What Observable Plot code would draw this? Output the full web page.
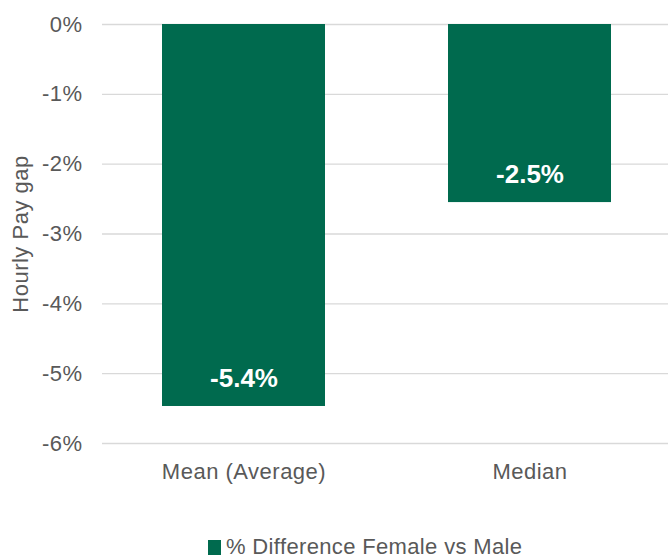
<!DOCTYPE html>
<html>
<head>
<meta charset="utf-8">
<script src="https://cdn.jsdelivr.net/npm/d3@7"></script>
<script src="https://cdn.jsdelivr.net/npm/@observablehq/plot@0.6"></script>
<style>
  body { margin: 0; background: #fff; font-family: "Liberation Sans", Arial, sans-serif; }
  #chart svg text { letter-spacing: 0.5px; }
  #chart svg .barlabel text { letter-spacing: 0; }
  #legend { position: absolute; left: 208px; top: 534px; display: flex; align-items: center; font-size: 22px; letter-spacing: 0.35px; color: #595959; line-height: 26px; }
  #legend .sw { width: 13px; height: 15px; background: #006A4E; margin-right: 5px; }
</style>
</head>
<body>
<div id="chart"></div>
<div id="legend"><div class="sw"></div><span>% Difference Female vs Male</span></div>
<script>
const categories = ["Mean (Average)", "Median"];
const values = [-5.47, -2.55];
const labels = ["-5.4%", "-2.5%"];
const yTicks = [0, -1, -2, -3, -4, -5, -6];
const seriesName = "% Difference Female vs Male";
const yTitle = "Hourly Pay gap";

const data = categories.map((c, i) => ({cat: c, value: values[i], label: labels[i]}));
const color = "#006A4E";

const chart = Plot.plot({
  width: 668,
  height: 490,
  marginLeft: 102,
  marginRight: 0,
  marginTop: 24,
  marginBottom: 47,
  style: {fontFamily: '"Liberation Sans", Arial, sans-serif', fontSize: "22px", color: "#595959", background: "#fff", overflow: "hidden"},
  x: {domain: categories, range: [101, 673], paddingInner: 0.43, paddingOuter: 0.215},
  y: {domain: [-6, 0]},
  marks: [
    Plot.ruleY(yTicks, {stroke: "#d9d9d9", strokeWidth: 1.3}),
    Plot.barY(data, {x: "cat", y: "value", fill: color}),
    Plot.text(data, {x: "cat", y: "value", text: "label", dy: -28, fill: "white", fontWeight: "bold", fontSize: 26, className: "barlabel"}),
    Plot.axisY({ticks: yTicks, tickSize: 0, tickPadding: 20, tickFormat: d => `${d}%`, label: yTitle, labelAnchor: "center", labelArrow: "none", labelOffset: 90, fontSize: 22}),
    Plot.axisX({tickSize: 0, tickPadding: 20, label: null, fontSize: 22})
  ]
});
document.getElementById("chart").appendChild(chart);
</script>
</body>
</html>
